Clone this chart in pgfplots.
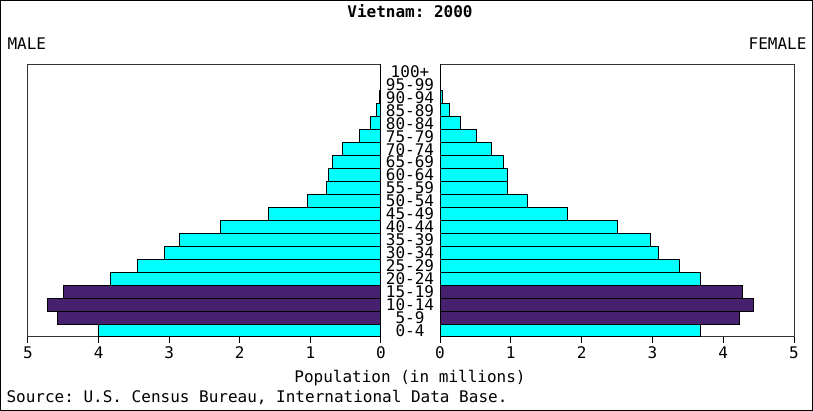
\documentclass[border=0pt]{standalone}
\usepackage{fontspec}
\setmonofont{DejaVu Sans Mono}
\usepackage{pgfplots}
\pgfplotsset{compat=1.18}
\definecolor{cy}{RGB}{0,255,255}
\definecolor{pu}{RGB}{72,32,112}
\newcommand{\pf}{\fontsize{16}{16}\selectfont\ttfamily}
\begin{document}
\begin{tikzpicture}
\useasboundingbox (0pt,0pt) rectangle (813pt,411pt);
\draw[line width=1pt] (0.5pt,0.5pt) rectangle (812.5pt,410.5pt);
\pgfplotsset{pyr/.style={scale only axis, height=272pt, ymin=-0.5, ymax=20.5,
  xmin=0, xmax=5, xtick={0,...,5}, xtick pos=bottom, xbar, bar width=1,
  tick align=outside, major tick length=6pt,
  axis line style={line width=1pt, black!80},
  tick style={line width=1pt, black},
  ticklabel style={font=\pf},
  /pgf/number format/assume math mode=true,
  every axis plot/.append style={bar shift=0pt, draw=black, line width=1pt}}}
\begin{axis}[pyr, at={(28pt,74pt)}, anchor=south west, width=353pt, x dir=reverse, ytick=\empty]
\addplot[fill=cy] coordinates {(4.00,0) (3.83,4) (3.45,5) (3.06,6) (2.86,7) (2.28,8) (1.59,9) (1.04,10) (0.77,11) (0.74,12) (0.68,13) (0.54,14) (0.31,15) (0.15,16) (0.06,17) (0.02,18) (0.01,19) (0.004,20)};
\addplot[fill=pu] coordinates {(4.58,1) (4.73,2) (4.50,3)};
\end{axis}
\begin{axis}[pyr, at={(440pt,74pt)}, anchor=south west, width=354pt,
  ytick={0,...,20}, ytick pos=left,
  yticklabels={0-4,5-9,10-14,15-19,20-24,25-29,30-34,35-39,40-44,45-49,50-54,55-59,60-64,65-69,70-74,75-79,80-84,85-89,90-94,95-99,100+},
  ytick style={draw=none},
  yticklabel style={anchor=center, xshift=-24pt}]
\addplot[fill=cy] coordinates {(3.68,0) (3.68,4) (3.38,5) (3.08,6) (2.97,7) (2.51,8) (1.80,9) (1.23,10) (0.96,11) (0.96,12) (0.89,13) (0.73,14) (0.52,15) (0.29,16) (0.14,17) (0.04,18) (0.01,19) (0.003,20)};
\addplot[fill=pu] coordinates {(4.23,1) (4.43,2) (4.27,3)};
\end{axis}
\node[font=\pf\bfseries] at (410pt,400pt) {Vietnam: 2000};
\node[font=\pf, anchor=west] at (4pt,367pt) {MALE};
\node[font=\pf, anchor=east] at (810pt,367pt) {FEMALE};
\node[font=\pf] at (410pt,33pt) {Population (in millions)};
\node[font=\pf, anchor=west] at (3pt,13pt) {Source: U.S. Census Bureau, International Data Base.};
\end{tikzpicture}
\end{document}
